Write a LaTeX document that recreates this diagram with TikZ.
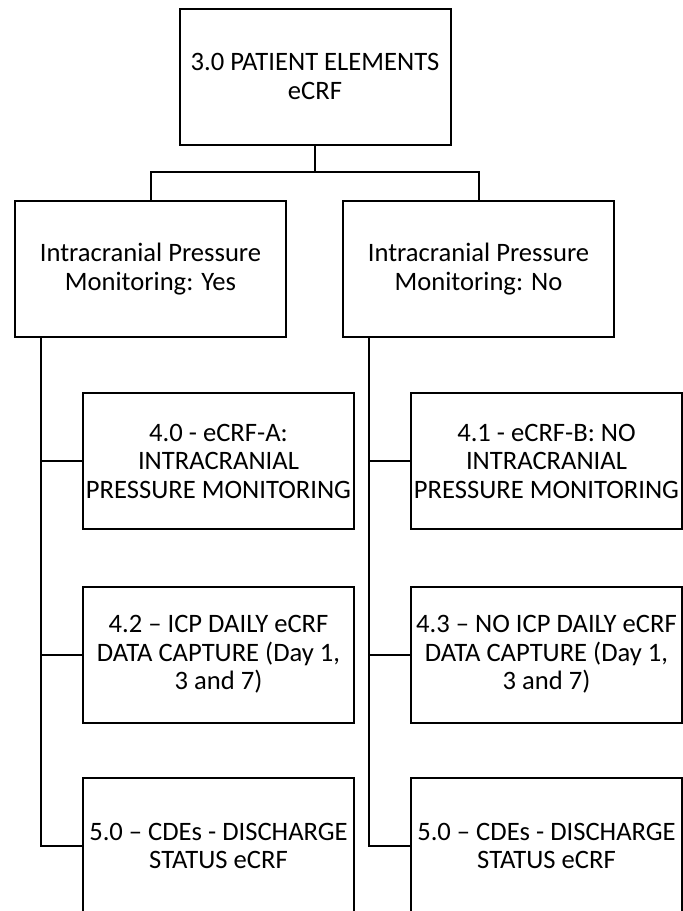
\documentclass[tikz,border=0pt]{standalone}
\usepackage{fontspec}
\setmainfont{Carlito}
\usepackage{tikz}
\usetikzlibrary{positioning}

\begin{document}
\begin{tikzpicture}[
  x=1pt, y=-1pt,
  every node/.style={font=\fontsize{26.6}{28.5}\selectfont},
  crfbox/.style={draw=black, line width=2pt, fill=white, align=center,
                 inner sep=0pt, minimum width=271pt, minimum height=136pt},
  link/.style={draw=black, line width=2pt}
]
\useasboundingbox (0,0) rectangle (683,911);

%% Top form
\node[crfbox] (top) at (315, 76.5) {3.0 PATIENT ELEMENTS\\eCRF};

%% ICP yes / no branches
\node[crfbox] (yes) at (150.5, 269) {Intracranial Pressure\\Monitoring: Yes};
\node[crfbox] (no)  at (478.5, 269) {Intracranial Pressure\\Monitoring: No};

\coordinate (split) at (315, 172);
\draw[link] (top.south) -- (split);
\draw[link] (yes.north) |- (split) -| (no.north);

%% ── ICP YES FORMS ─────────────────────────────────
\node[crfbox] (ya) at (218.5, 461)
  {4.0 - eCRF-A:\\INTRACRANIAL\\PRESSURE MONITORING};
\node[crfbox] (yb) at (218.5, 654.5)
  {4.2 – ICP DAILY eCRF\\DATA CAPTURE (Day 1,\\3 and 7)};
\node[crfbox] (yc) at (218.5, 846)
  {5.0 – CDEs - DISCHARGE\\STATUS eCRF};

%% ── ICP NO FORMS ──────────────────────────────────
\node[crfbox] (na) at (546.5, 461)
  {4.1 - eCRF-B: NO\\INTRACRANIAL\\PRESSURE MONITORING};
\node[crfbox] (nb) at (546.5, 654.5)
  {4.3 – NO ICP DAILY eCRF\\DATA CAPTURE (Day 1,\\3 and 7)};
\node[crfbox] (nc) at (546.5, 846)
  {5.0 – CDEs - DISCHARGE\\STATUS eCRF};

%% Trunks
\coordinate (ytrunk) at ([xshift=27pt]yes.south west);
\coordinate (ntrunk) at ([xshift=27pt]no.south west);
\draw[link] (ytrunk) |- (yc.west);
\draw[link] (ntrunk) |- (nc.west);
\foreach \f in {ya, yb}
  \draw[link] (\f.west) -- (\f.west -| ytrunk);
\foreach \f in {na, nb}
  \draw[link] (\f.west) -- (\f.west -| ntrunk);

\end{tikzpicture}
\end{document}
